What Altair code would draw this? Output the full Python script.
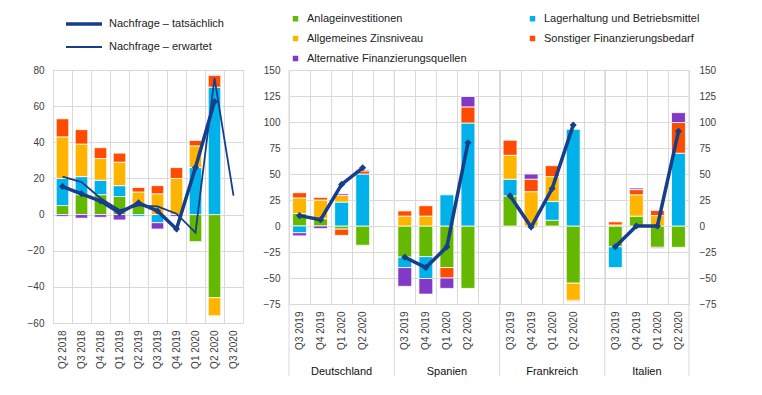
import altair as alt
import pandas as pd

# ---------------- data ----------------
cats = ["Anlageinvestitionen", "Lagerhaltung und Betriebsmittel",
        "Allgemeines Zinsniveau", "Sonstiger Finanzierungsbedarf",
        "Alternative Finanzierungsquellen"]
cat_colors = ["#65B800", "#00B1EA", "#FFB400", "#FF4B00", "#8139C7"]
legend_order = [0, 2, 4, 1, 3]  # legend columns fill top-to-bottom
line_names = ["Nachfrage – tatsächlich", "Nachfrage – erwartet"]

# euro area (left panel)
ea_quarters = ["Q2 2018", "Q3 2018", "Q4 2018", "Q1 2019", "Q2 2019",
               "Q3 2019", "Q4 2019", "Q1 2020", "Q2 2020", "Q3 2020"]
ea_anlage = [5, 11, 11, 10, 4.5, 0, 0, -15, -46, None]
ea_lager = [15, 10, 8, 6, -1, -4.5, 0, 26, 70.5, None]
ea_zins = [23, 18, 12, 13, 8, 11.5, 20, 12, -10, None]
ea_sonst = [10, 8, 6, 5, 2.5, 4.5, 6, 3, 6.5, None]
ea_altern = [-1, -2, -1.5, -3, 0, -3.5, -1, 0, 0.5, None]
ea_actual = [15.5, 11.5, 7.5, 1, 6.5, 2, -8, 26, 62.5, None]
ea_expected = [21, 18, 9, 2.5, 5, 4.5, 0.5, -10, 75.5, 10.5]

# countries (right panel)
countries = ["Deutschland", "Spanien", "Frankreich", "Italien"]
cty_quarters = ["Q3 2019", "Q4 2019", "Q1 2020", "Q2 2020"]
anlage_by_cty = {"Deutschland": [12, 7, -3, -18.5], "Spanien": [-30, -29.5, -40, -60],
                 "Frankreich": [29, -1.5, 5.5, -55], "Italien": [-20, 9.5, -20.5, -20.5]}
lager_by_cty = {"Deutschland": [-6.5, 0, 23, 50], "Spanien": [-10, -21, 30, 99],
                "Frankreich": [16, 0, 18, 93], "Italien": [-20, 0, 0, 70]}
zins_by_cty = {"Deutschland": [15, 18, 6.5, 0], "Spanien": [9.5, 9.5, 0, 0],
               "Frankreich": [23, 33, 24, -16.5], "Italien": [1, 20.5, 10, 0]}
sonst_by_cty = {"Deutschland": [5, 2.5, -6, 3], "Spanien": [5, 10, -10, 15.5],
                "Frankreich": [14.5, 12, 10.5, -1], "Italien": [3, 5, 5, 29.5]}
altern_by_cty = {"Deutschland": [-3, -2.5, 1.5, 1], "Spanien": [-18, -15, -10, 10],
                 "Frankreich": [0, 5, 0, 0], "Italien": [0, 1.5, -1, 9.5]}
actual_by_cty = {"Deutschland": [10, 6, 40, 56], "Spanien": [-30, -40, -20, 80],
                 "Frankreich": [29, -1, 36, 97], "Italien": [-20, 0, 0, 91]}

# ---------------- styling ----------------
NAVY = "#163E8A"
GRID = "#D9D9D9"
TXT = "#404040"
FONT = "Liberation Sans"
W_L, H_L = 190, 253
W_R, H_R = 400, 234

# ---------------- frames ----------------
ea_series = [ea_anlage, ea_lager, ea_zins, ea_sonst, ea_altern]
rows = []
for i, q in enumerate(ea_quarters):
    for j, vals in enumerate(ea_series):
        v = vals[i]
        if v is not None and v != 0:
            rows.append(dict(quarter=q, cat=cats[j], ord=j, value=v))
left_bars = pd.DataFrame(rows)

rows = []
for name, vals in zip(line_names, [ea_actual, ea_expected]):
    for i, q in enumerate(ea_quarters):
        if vals[i] is not None:
            rows.append(dict(quarter=q, idx=i, series=name, value=vals[i]))
left_lines = pd.DataFrame(rows)
left_pts = left_lines[left_lines["series"] == line_names[0]]

keys = []
for c in countries:
    for q in cty_quarters:
        keys.append(f"{c}|{q}")
    if c != "Italien":
        keys.append(f"{c}|")

cty_series = [anlage_by_cty, lager_by_cty, zins_by_cty, sonst_by_cty, altern_by_cty]
rows = []
for c in countries:
    for i, q in enumerate(cty_quarters):
        for j, d in enumerate(cty_series):
            v = d[c][i]
            if v != 0:
                rows.append(dict(key=f"{c}|{q}", cat=cats[j], ord=j, value=v))
right_bars = pd.DataFrame(rows)

rows = []
for c in countries:
    for i, q in enumerate(cty_quarters):
        rows.append(dict(key=f"{c}|{q}", country=c, idx=i, value=actual_by_cty[c][i]))
right_lines = pd.DataFrame(rows)

sep_df = pd.DataFrame({"key": [f"{c}|{cty_quarters[0]}" for c in countries]})
end_df = pd.DataFrame({"key": [f"{countries[-1]}|{cty_quarters[-1]}"]})
lab_df = pd.DataFrame({"country": countries[:3],
                       "key": [f"{c}|{cty_quarters[2]}" for c in countries[:3]]})
lab_it_df = pd.DataFrame({"country": countries[3:],
                          "key": [f"{countries[3]}|{cty_quarters[2]}"]})

# ---------------- encodings ----------------
color_enc = alt.Color(
    "cat:N",
    scale=alt.Scale(domain=[cats[k] for k in legend_order],
                    range=[cat_colors[k] for k in legend_order]),
    legend=alt.Legend(title=None, orient="none", legendX=237, legendY=-57,
                      columns=2, columnPadding=60, rowPadding=8,
                      symbolType="square", symbolSize=30, symbolStrokeWidth=0,
                      labelFontSize=11, labelColor="#222222", labelOffset=6,
                      padding=0))

line_legend = alt.Legend(title=None, orient="none", legendX=23, legendY=-54,
                         symbolType="M-3,0H3", symbolSize=144,
                         symbolStrokeColor=NAVY, symbolFillColor="transparent",
                         labelFontSize=11, labelColor="#222222", labelOffset=17,
                         rowPadding=9, padding=0)

x_left_axis = alt.Axis(title=None, labelAngle=270, tickBand="extent", grid=True,
                       gridColor=GRID, ticks=False, domain=False, labelPadding=7,
                       labelFontSize=10, labelColor=TXT)


def x_left():
    return alt.X("quarter:N", scale=alt.Scale(domain=ea_quarters, paddingInner=0, paddingOuter=0),
                 axis=x_left_axis)


y_left_scale = alt.Scale(domain=[-60, 80], nice=False, zero=False)
y_left_axis = alt.Axis(values=list(range(-60, 81, 20)), title=None, ticks=False,
                       domain=False, labelPadding=9, labelFontSize=10,
                       labelColor=TXT, gridColor=GRID)

x_right_axis = alt.Axis(title=None, labelAngle=270, tickBand="extent", grid=True,
                        gridColor=GRID, ticks=False, domain=False, labelPadding=7,
                        labelFontSize=10, labelColor=TXT,
                        labelExpr="split(datum.value, '|')[1]")


def x_right(**kw):
    return alt.X("key:N", scale=alt.Scale(domain=keys, paddingInner=0, paddingOuter=0),
                 axis=x_right_axis, **kw)


y_right_scale = alt.Scale(domain=[-75, 150], nice=False, zero=False)
y_right_vals = list(range(-75, 151, 25))

# ---------------- left panel ----------------
l_bars = alt.Chart(left_bars).mark_bar(
    width=alt.RelativeBandSize(0.66), stroke="white", strokeWidth=0.8
).encode(
    x=x_left(),
    y=alt.Y("value:Q", stack="zero", scale=y_left_scale, axis=y_left_axis),
    color=color_enc,
    order=alt.Order("ord:Q"),
)
l_lines = alt.Chart(left_lines).mark_line(color=NAVY).encode(
    x=x_left(),
    y=alt.Y("value:Q", scale=y_left_scale, axis=y_left_axis),
    detail="series:N",
    order=alt.Order("idx:Q"),
    strokeWidth=alt.StrokeWidth("series:N",
                                scale=alt.Scale(type="point", domain=line_names, range=[3.5, 1.8]),
                                legend=line_legend),
)
l_pts = alt.Chart(left_pts).mark_point(shape="diamond", filled=True, size=50,
                                       color=NAVY, opacity=1).encode(
    x=x_left(),
    y=alt.Y("value:Q", scale=y_left_scale, axis=y_left_axis),
)
left = alt.layer(l_bars, l_lines, l_pts).properties(width=W_L, height=H_L)

# ---------------- right panel ----------------
r_seps = alt.Chart(sep_df).mark_rule(color=GRID, strokeWidth=1).encode(
    x=x_right(bandPosition=0), y=alt.value(0), y2=alt.value(H_R + 72))
r_end = alt.Chart(end_df).mark_rule(color=GRID, strokeWidth=1).encode(
    x=x_right(bandPosition=1), y=alt.value(0), y2=alt.value(H_R + 72))
r_bars = alt.Chart(right_bars).mark_bar(
    width=alt.RelativeBandSize(0.66), stroke="white", strokeWidth=0.8
).encode(
    x=x_right(),
    y=alt.Y("value:Q", stack="zero", scale=y_right_scale,
            axis=alt.Axis(values=y_right_vals, title=None, ticks=False, domain=False,
                          labelPadding=9, labelFontSize=10, labelColor=TXT,
                          gridColor=GRID, orient="left")),
    color=color_enc,
    order=alt.Order("ord:Q"),
)
r_lines = alt.Chart(right_lines).mark_line(color=NAVY, strokeWidth=3.5).encode(
    x=x_right(),
    y=alt.Y("value:Q", scale=y_right_scale,
            axis=alt.Axis(values=y_right_vals, title=None, ticks=False, domain=False,
                          labelPadding=10, labelFontSize=10, labelColor=TXT,
                          grid=False, orient="right")),
    detail="country:N",
    order=alt.Order("idx:Q"),
)
r_pts = alt.Chart(right_lines).mark_point(shape="diamond", filled=True, size=50,
                                          color=NAVY, opacity=1).encode(
    x=x_right(),
    y=alt.Y("value:Q", scale=y_right_scale, axis=None),
)
r_labs = alt.Chart(lab_df).mark_text(fontSize=11, color="#111111", baseline="middle").encode(
    x=x_right(), y=alt.value(H_R + 68), text="country:N")
r_lab_it = alt.Chart(lab_it_df).mark_text(fontSize=11, color="#111111", baseline="middle").encode(
    x=x_right(bandPosition=0), y=alt.value(H_R + 68), text="country:N")

right = alt.layer(r_seps, r_end, r_bars, r_lines, r_pts, r_labs, r_lab_it).resolve_axis(
    y="independent").properties(width=W_R, height=H_R)

chart = alt.hconcat(left, right, spacing=18).properties(
    padding={"left": 18, "top": 5, "right": 10, "bottom": 5}
).configure(font=FONT).configure_view(stroke=GRID)

chart.save("out.html", embed_options={"renderer": "svg", "actions": False})
